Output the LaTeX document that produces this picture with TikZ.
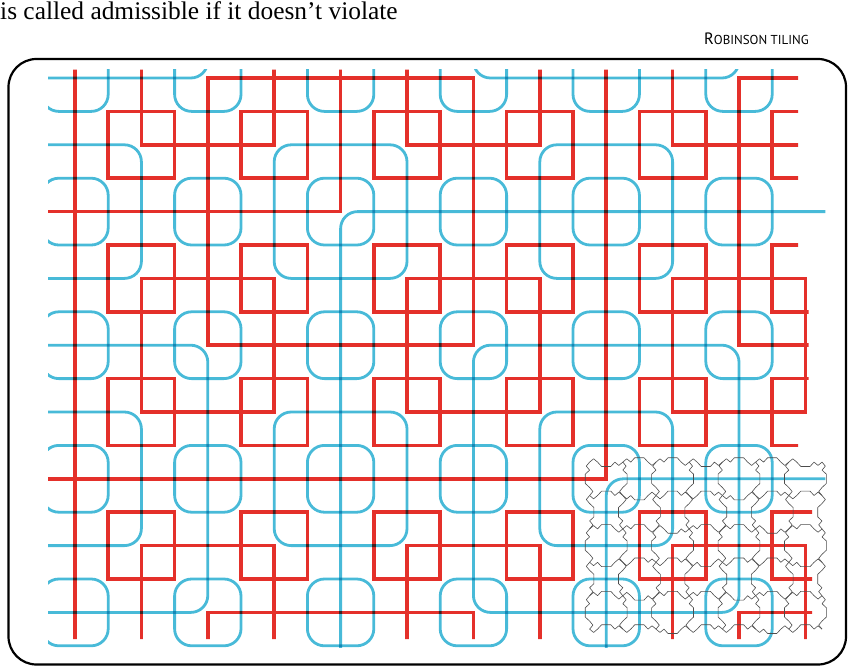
\documentclass[tikz,border=0pt]{standalone}
\usepackage{fontspec}
\setmainfont{Liberation Serif}
\newfontfamily\capsfont{PT Sans}
\definecolor{rl}{RGB}{228,48,42}
\definecolor{bl}{RGB}{72,186,216}
\begin{document}
\begin{tikzpicture}[x=1bp,y=-1bp,
  redline/.style={draw=rl,line width=3.6bp},
  blueline/.style={draw=bl,line width=2.8bp,rounded corners=17bp},
  tileedge/.style={draw=black!70,line width=0.6bp,line join=round},
  frame/.style={draw=black,line width=2.2bp,rounded corners=28bp}]
\useasboundingbox (0,0) rectangle (848,666);
\node[anchor=base west,inner sep=0,font=\fontsize{25.5}{25.5}\selectfont] (caption) at (0,20) {is called admissible if it doesn’t violate};
\node[anchor=base east,inner sep=0] (title) at (809,45) {\capsfont\fontsize{16.5}{16.5}\selectfont R\fontsize{13}{13}\selectfont OBINSON TILING};
\draw[frame] (8.5,59) rectangle (846,664.5);
\begin{scope}[shift={(75bp,-78bp)},x=33.2bp,y=-33.4bp]
 % ---------------- red squares
 \begin{scope}
  \clip (-0.81,-0.25) rectangle (21.78,16.8)
        (21.7,5.9) rectangle (22.1,10.1)
        (21.7,12.5) rectangle (22.2,16.8);
  \foreach \a in {2,6,...,22} \foreach \b in {2,6,10,14}
    \draw[redline] (\a-1,\b-1) rectangle (\a+1,\b+1);
  \foreach \a in {4,12,20} \foreach \b in {0,8,16}
    \draw[redline] (\a-2,\b-2) rectangle (\a+2,\b+2);
  \draw[redline] (4,0) rectangle (12,8);
  \draw[redline] (20,0) rectangle (28,8);
  \draw[redline] (4,16) rectangle (12,24);
  \draw[redline] (20,16) rectangle (28,24);
  \draw[redline] (-8,-12) rectangle (8,4);
  \draw[redline] (0,-4) rectangle (32,28);
  \draw[redline] (-48,-52) rectangle (16,12);
 \end{scope}
 % ---------------- blue squares
 \begin{scope}[blend mode=multiply]
  \clip (-0.81,-0.25) rectangle (22.6,17.05);
  \foreach \a in {0,4,...,20} \foreach \b in {0,4,...,16}
    \draw[blueline] (\a-1,\b-1) rectangle (\a+1,\b+1);
  \foreach \a in {0,8,16} \foreach \b in {4,12}
    \draw[blueline] (\a-2,\b-2) rectangle (\a+2,\b+2);
  \draw[blueline] (-4,-8) rectangle (4,0);
  \draw[blueline] (12,-8) rectangle (20,0);
  \draw[blueline] (-4,8) rectangle (4,16);
  \draw[blueline] (12,8) rectangle (20,16);
  \draw[blueline] (8,4) rectangle (24,20);
  \draw[blueline] (16,12) rectangle (80,76);
 \end{scope}
 % ---------------- jigsaw tiles
 \foreach \a in {15,...,22} \foreach \b in {12,...,16} {
   \pgfmathsetmacro\s{ifthenelse(mod(\a+\b,2)==0,0.13,-0.13)}
   \pgfmathsetmacro\t{ifthenelse(mod(\a,2)==0,0.1,-0.1)}
   \draw[tileedge] (\a+.5,\b-.5) -- (\a+.5+\t,\b-.38) -- (\a+.5,\b-.26) -- (\a+.5+\s,\b-.14) -- (\a+.5+\s,\b+.14) -- (\a+.5,\b+.26) -- (\a+.5-\t,\b+.38) -- (\a+.5,\b+.5);
 }
 \foreach \a in {16,...,22} \foreach \b in {11,...,16} {
   \pgfmathsetmacro\s{ifthenelse(mod(\a+2*\b+1,3)==0,0.13,-0.13)}
   \pgfmathsetmacro\t{ifthenelse(mod(\b,2)==0,0.1,-0.1)}
   \draw[tileedge] (\a-.5,\b+.5) -- (\a-.38,\b+.5+\t) -- (\a-.26,\b+.5) -- (\a-.14,\b+.5+\s) -- (\a+.14,\b+.5+\s) -- (\a+.26,\b+.5) -- (\a+.38,\b+.5-\t) -- (\a+.5,\b+.5);
 }
\end{scope}
\end{tikzpicture}
\end{document}
